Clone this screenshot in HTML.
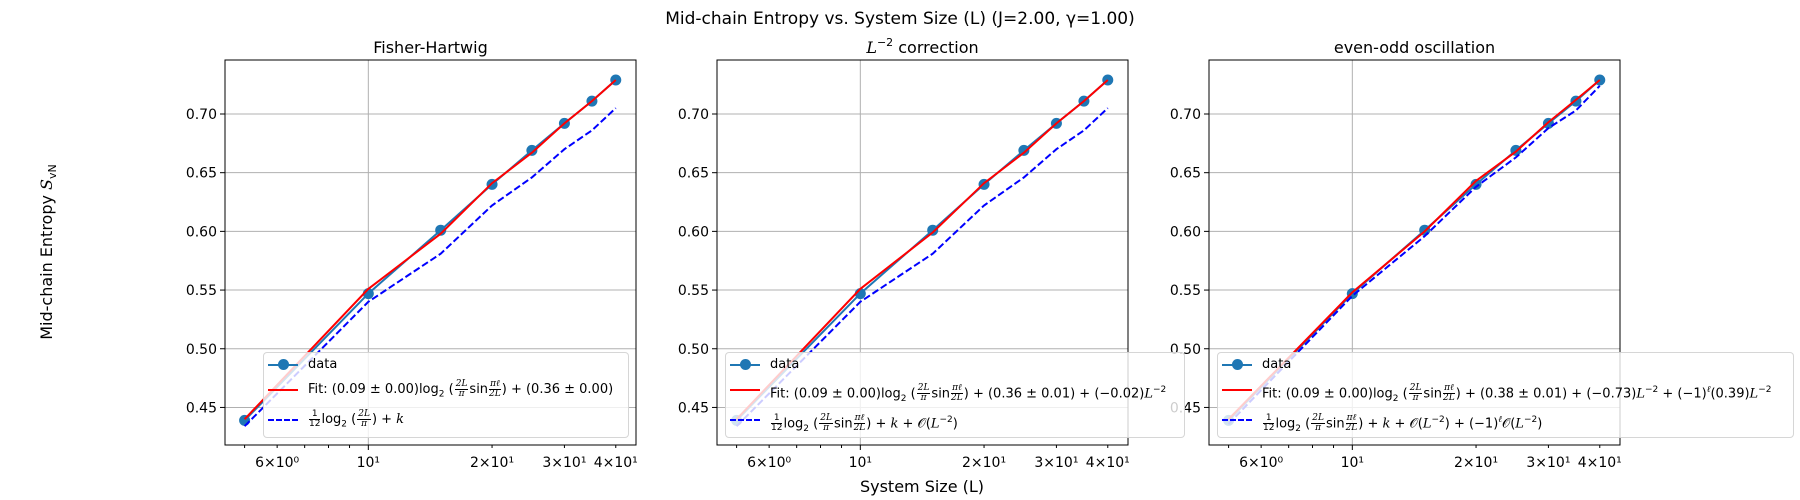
<!DOCTYPE html>
<html><head><meta charset="utf-8">
<style>
body{margin:0;background:#fff;}
#wrap{position:relative;width:1800px;height:500px;overflow:hidden;font-family:"DejaVu Sans","Liberation Sans",sans-serif;}
svg{position:absolute;left:0;top:0;}
.leg{position:absolute;background:rgba(255,255,255,0.8);border:1px solid rgba(204,204,204,0.8);border-radius:4px;font-size:13px;color:#000;box-sizing:border-box;}
.row{position:absolute;left:0;height:24px;white-space:nowrap;}
.row .h{position:absolute;left:4px;top:11px;width:30px;height:0;}
.row .t{position:absolute;left:44px;top:2px;line-height:20px;}
.fr{display:inline-block;vertical-align:middle;text-align:center;font-size:9px;line-height:9px;margin:0 1px;}
.fr span{display:block;}
.fr .n{border-bottom:1px solid #000;padding:0 1px;}
i{font-family:"DejaVu Serif","Liberation Serif",serif;}
sup{font-size:9px;}
sub{font-size:9px;}
</style></head>
<body>
<div id="wrap">
<svg id="chart" width="1800" height="500"></svg>

<div class="leg" style="left:263px;top:352px;width:366px;height:86px">
 <div class="row" style="top:0"><div class="h" style="border-top:2px solid #1f77b4"></div><div style="position:absolute;left:14px;top:6px;width:11px;height:11px;border-radius:50%;background:#1f77b4"></div><span class="t">data</span></div>
 <div class="row" style="top:25px"><div class="h" style="border-top:2px solid #ff0000"></div><span class="t">Fit: (0.09 ± 0.00)log<sub>2</sub> (<span class="fr"><span class="n"><i>2L</i></span><span><i>π</i></span></span>sin<span class="fr"><span class="n"><i>πℓ</i></span><span><i>2L</i></span></span>) + (0.36 ± 0.00)</span></div>
 <div class="row" style="top:55px"><div class="h" style="border-top:2px dashed #0000ff"></div><span class="t"><span class="fr"><span class="n">1</span><span>12</span></span>log<sub>2</sub> (<span class="fr"><span class="n"><i>2L</i></span><span><i>π</i></span></span>) + <i>k</i></span></div>
</div>

<div class="leg" style="left:725px;top:352px;width:460px;height:86px">
 <div class="row" style="top:0"><div class="h" style="border-top:2px solid #1f77b4"></div><div style="position:absolute;left:14px;top:6px;width:11px;height:11px;border-radius:50%;background:#1f77b4"></div><span class="t">data</span></div>
 <div class="row" style="top:25px"><div class="h" style="border-top:2px solid #ff0000"></div><span class="t">Fit: (0.09 ± 0.00)log<sub>2</sub> (<span class="fr"><span class="n"><i>2L</i></span><span><i>π</i></span></span>sin<span class="fr"><span class="n"><i>πℓ</i></span><span><i>2L</i></span></span>) + (0.36 ± 0.01) + (−0.02)<i>L</i><sup>−2</sup></span></div>
 <div class="row" style="top:55px"><div class="h" style="border-top:2px dashed #0000ff"></div><span class="t"><span class="fr"><span class="n">1</span><span>12</span></span>log<sub>2</sub> (<span class="fr"><span class="n"><i>2L</i></span><span><i>π</i></span></span>sin<span class="fr"><span class="n"><i>πℓ</i></span><span><i>2L</i></span></span>) + <i>k</i> + 𝒪(<i>L</i><sup>−2</sup>)</span></div>
</div>

<div class="leg" style="left:1217px;top:352px;width:577px;height:86px">
 <div class="row" style="top:0"><div class="h" style="border-top:2px solid #1f77b4"></div><div style="position:absolute;left:14px;top:6px;width:11px;height:11px;border-radius:50%;background:#1f77b4"></div><span class="t">data</span></div>
 <div class="row" style="top:25px"><div class="h" style="border-top:2px solid #ff0000"></div><span class="t">Fit: (0.09 ± 0.00)log<sub>2</sub> (<span class="fr"><span class="n"><i>2L</i></span><span><i>π</i></span></span>sin<span class="fr"><span class="n"><i>πℓ</i></span><span><i>2L</i></span></span>) + (0.38 ± 0.01) + (−0.73)<i>L</i><sup>−2</sup> + (−1)<sup><i>ℓ</i></sup>(0.39)<i>L</i><sup>−2</sup></span></div>
 <div class="row" style="top:55px"><div class="h" style="border-top:2px dashed #0000ff"></div><span class="t"><span class="fr"><span class="n">1</span><span>12</span></span>log<sub>2</sub> (<span class="fr"><span class="n"><i>2L</i></span><span><i>π</i></span></span>sin<span class="fr"><span class="n"><i>πℓ</i></span><span><i>2L</i></span></span>) + <i>k</i> + 𝒪(<i>L</i><sup>−2</sup>) + (−1)<sup><i>ℓ</i></sup>𝒪(<i>L</i><sup>−2</sup>)</span></div>
</div>
</div>

<script>
const sizes = [5, 10, 15, 20, 25, 30, 35, 40];
const dataValues = [0.439, 0.547, 0.601, 0.640, 0.669, 0.692, 0.711, 0.729];
const fitFH = [0.440, 0.551, 0.598, 0.641, 0.667, 0.692, 0.711, 0.729];
const theoryFH = [0.434, 0.540, 0.581, 0.622, 0.646, 0.670, 0.686, 0.705];
const fitL2 = [0.440, 0.551, 0.599, 0.641, 0.667, 0.692, 0.711, 0.729];
const theoryL2 = [0.434, 0.540, 0.581, 0.622, 0.646, 0.670, 0.686, 0.705];
const fitEO = [0.440, 0.548, 0.600, 0.643, 0.668, 0.693, 0.712, 0.729];
const theoryEO = [0.436, 0.545, 0.596, 0.638, 0.663, 0.688, 0.703, 0.724];
const yTicks = [0.45, 0.50, 0.55, 0.60, 0.65, 0.70];
const xMajorTicks = [10];
const xLabeledMinor = [6, 20, 30, 40];
const xMinorLabels = ["6×10⁰", "2×10¹", "3×10¹", "4×10¹"];
const xMinorAll = [5, 6, 7, 8, 9, 20, 30, 40];
const panelTitles = ["Fisher-Hartwig", "L⁻² correction", "even-odd oscillation"];

(function () {
const NS = "http://www.w3.org/2000/svg";
const svg = document.getElementById("chart");
function mk(tag, attrs, parent) {
  const e = document.createElementNS(NS, tag);
  for (const k in attrs) e.setAttribute(k, attrs[k]);
  (parent || svg).appendChild(e);
  return e;
}
const xMin = 4.48, xMax = 44.8, yMin = 0.418, yMax = 0.746;
const pTop = 60, pBottom = 445, pw = 411;
const lefts = [225, 717, 1209];
const panels = [[fitFH, theoryFH], [fitL2, theoryL2], [fitEO, theoryEO]];
const ff = "DejaVu Sans, Liberation Sans, sans-serif";

let t = mk("text", {x: 900, y: 24, "text-anchor": "middle", "font-size": 17, "font-family": ff});
t.textContent = "Mid-chain Entropy vs. System Size (L) (J=2.00, γ=1.00)";



t = mk("text", {x: 922, y: 492, "text-anchor": "middle", "font-size": 16, "font-family": ff});
t.textContent = "System Size (L)";



t = mk("text", {x: 0, y: 0, "text-anchor": "middle", "font-size": 16, "font-family": ff, transform: "translate(52,252) rotate(-90)"});
t.innerHTML = 'Mid-chain Entropy <tspan font-style="italic" font-family="DejaVu Serif, serif">S</tspan><tspan font-size="11" dy="4">vN</tspan>';



panels.forEach((series, p) => {
  const L = lefts[p];
  const g = mk("g", {});
  
  
  const xs = v => L + (Math.log10(v) - Math.log10(xMin)) / (Math.log10(xMax) - Math.log10(xMin)) * pw;
  const ys = v => pBottom - (v - yMin) / (yMax - yMin) * (pBottom - pTop);
  yTicks.forEach(v => {
    const l = mk("line", {x1: L, x2: L + pw, y1: ys(v), y2: ys(v), stroke: "#b0b0b0", "stroke-width": 1}, g);
    
    
    mk("line", {x1: L - 5, x2: L, y1: ys(v), y2: ys(v), stroke: "#000", "stroke-width": 1}, g);
    const tx = mk("text", {x: L - 8, y: ys(v) + 5, "text-anchor": "end", "font-size": 14, "font-family": ff}, g);
    tx.textContent = v.toFixed(2);
    
    
  });
  xMajorTicks.forEach(v => {
    const l = mk("line", {x1: xs(v), x2: xs(v), y1: pTop, y2: pBottom, stroke: "#b0b0b0", "stroke-width": 1}, g);
    
    
    mk("line", {x1: xs(v), x2: xs(v), y1: pBottom, y2: pBottom + 5, stroke: "#000"}, g);
    const tx = mk("text", {x: xs(v), y: pBottom + 22, "text-anchor": "middle", "font-size": 14, "font-family": ff}, g);
    tx.textContent = "10¹";
    
    
  });
  xMinorAll.forEach(v => {
    mk("line", {x1: xs(v), x2: xs(v), y1: pBottom, y2: pBottom + 3, stroke: "#000"}, g);
  });
  xLabeledMinor.forEach((v, i) => {
    const tx = mk("text", {x: xs(v), y: pBottom + 22, "text-anchor": "middle", "font-size": 14, "font-family": ff}, g);
    tx.textContent = xMinorLabels[i];
    
    
  });
  const pts = arr => arr.map((v, i) => xs(sizes[i]).toFixed(1) + "," + ys(v).toFixed(1)).join(" ");
  let pl = mk("polyline", {points: pts(dataValues), fill: "none", stroke: "#1f77b4", "stroke-width": 2}, g);
  
  
  dataValues.forEach((v, i) => {
    const c = mk("circle", {cx: xs(sizes[i]), cy: ys(v), r: 5.5, fill: "#1f77b4"}, g);
    
    
  });
  pl = mk("polyline", {points: pts(series[0]), fill: "none", stroke: "#ff0000", "stroke-width": 2}, g);
  
  
  pl = mk("polyline", {points: pts(series[1]), fill: "none", stroke: "#0000ff", "stroke-width": 2, "stroke-dasharray": "7,3"}, g);
  
  
  const r = mk("rect", {x: L, y: pTop, width: pw, height: pBottom - pTop, fill: "none", stroke: "#000", "stroke-width": 1}, g);
  
  
  const tt = mk("text", {x: L + pw / 2, y: pTop - 7, "text-anchor": "middle", "font-size": 16, "font-family": ff}, g);
  if (p === 1) tt.innerHTML = '<tspan font-style="italic" font-family="DejaVu Serif, serif">L</tspan><tspan font-size="11" dy="-7">−2</tspan><tspan dy="7"> correction</tspan>';
  else tt.textContent = panelTitles[p];
  
  
});
})();
</script>
</body></html>
